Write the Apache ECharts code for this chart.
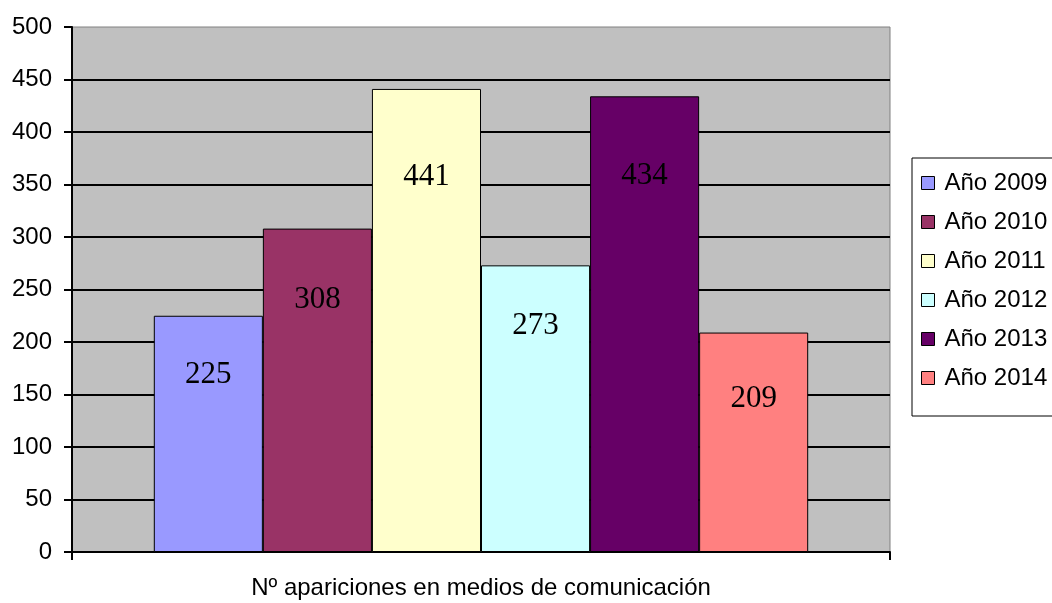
<!DOCTYPE html>
<html>
<head>
<meta charset="utf-8">
<script src="https://cdn.jsdelivr.net/npm/echarts@6/dist/echarts.min.js"></script>
<style>
  html, body { margin: 0; padding: 0; background: #fff; }
  #chart { width: 1052px; height: 603px; }
</style>
</head>
<body>
<div id="chart"></div>
<script>
// Apariciones en medios por año
const years = ['Año 2009', 'Año 2010', 'Año 2011', 'Año 2012', 'Año 2013', 'Año 2014'];
const values = [225, 308, 441, 273, 434, 209];
const category = ['Nº apariciones en medios de comunicación'];
const yTicks = [0, 50, 100, 150, 200, 250, 300, 350, 400, 450, 500];

// Styling
const colors = ['#9999FF', '#993366', '#FFFFCC', '#CCFFFF', '#660066', '#FF8080'];
const labelDrop = [44, 56, 72, 45, 64, 51];

const chart = echarts.init(document.getElementById('chart'), null, { renderer: 'canvas' });

const series = years.map((name, i) => ({
  name,
  type: 'bar',
  data: [values[i]],
  barGap: '0%',
  barCategoryGap: '20%',
  itemStyle: { color: colors[i], borderColor: '#000', borderWidth: 1 },
  label: {
    show: true,
    position: 'insideTop',
    distance: labelDrop[i],
    color: '#000',
    fontFamily: 'Liberation Serif',
    fontSize: 31
  },
  emphasis: { disabled: true }
}));

chart.setOption({
  animation: false,
  color: colors,
  grid: {
    left: 72, top: 27, right: 162, bottom: 51,
    show: true,
    backgroundColor: '#C0C0C0',
    borderColor: '#808080',
    borderWidth: 1
  },
  legend: {
    orient: 'vertical',
    left: 912, top: 158,
    padding: [13, 60, 26, 9],
    itemWidth: 13, itemHeight: 13,
    itemGap: 15,
    borderColor: '#000', borderWidth: 1,
    backgroundColor: '#fff',
    icon: 'rect',
    itemStyle: { borderColor: '#000', borderWidth: 1 },
    textStyle: { fontFamily: 'Liberation Sans', fontSize: 24, color: '#000', padding: [0, 0, 0, 5] },
    data: years
  },
  xAxis: {
    type: 'category',
    data: category,
    boundaryGap: true,
    axisLine: { lineStyle: { color: '#000', width: 2 } },
    axisTick: { show: true, length: 8, lineStyle: { color: '#000', width: 2 } },
    axisLabel: {
      show: true,
      margin: 24,
      fontFamily: 'Liberation Sans',
      fontSize: 24,
      color: '#000'
    }
  },
  yAxis: {
    type: 'value',
    min: 0, max: 500, interval: 50,
    axisLine: { show: true, lineStyle: { color: '#000', width: 2 } },
    axisTick: { show: true, length: 8, lineStyle: { color: '#000', width: 2 } },
    axisLabel: {
      margin: 20,
      fontFamily: 'Liberation Sans',
      fontSize: 24,
      color: '#000',
      formatter: v => yTicks.includes(v) ? String(v) : ''
    },
    splitLine: { show: true, showMinLine: false, showMaxLine: false, lineStyle: { color: '#000', width: 2 } }
  },
  series
});
</script>
</body>
</html>
